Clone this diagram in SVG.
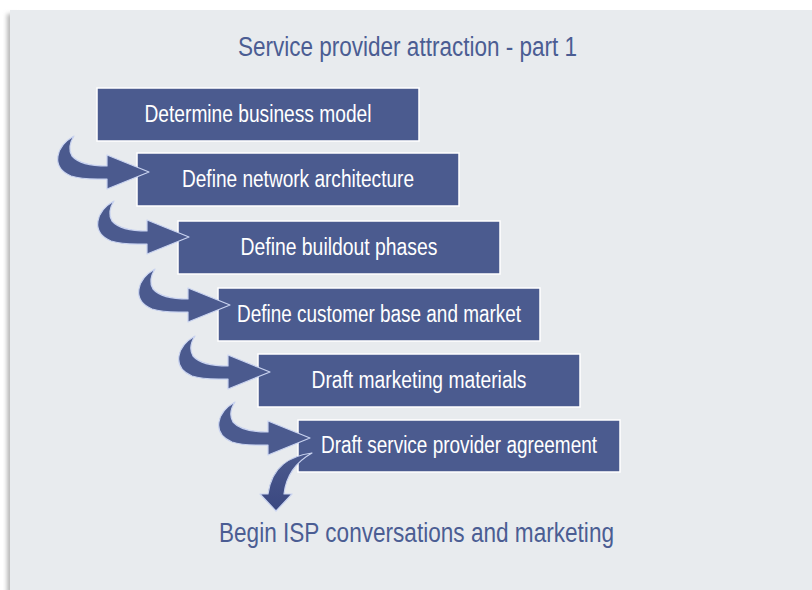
<svg xmlns="http://www.w3.org/2000/svg" width="812" height="590" viewBox="0 0 812 590">
<defs>
<style>
.box{fill:#4b5b8f;stroke:#ffffff;stroke-width:1.5}
.bt{font-family:"Liberation Sans",Arial,sans-serif;font-size:23px;fill:#ffffff;text-anchor:middle}
.hd{font-family:"Liberation Sans",Arial,sans-serif;font-size:27px;fill:#4b5d93;text-anchor:middle}
.arr{fill:#4b5a8e;stroke:#c9d3f0;stroke-width:1.2;stroke-linejoin:round}
</style>
<linearGradient id="lastg" x1="0" y1="0" x2="0" y2="1">
<stop offset="0" stop-color="#4b5a8e"/>
<stop offset="1" stop-color="#3a4780"/>
</linearGradient>
<filter id="sh" x="-50%" y="-10%" width="200%" height="120%">
<feGaussianBlur stdDeviation="2"/>
</filter>
<path id="curl" d="M -23,48 C -41,58 -47,79 -26,88 C -14,92 -2,91 10,91 L 10,101 L 52,84 L 10,67 L 10,78 C -2,78 -18,76 -25,68 C -29,61 -27,54 -23,48 Z"/>
</defs>
<rect x="0" y="0" width="812" height="590" fill="#ffffff"/>
<rect x="7" y="14" width="10" height="580" fill="#b8b8b8" filter="url(#sh)"/>
<rect x="10" y="10" width="802" height="580" fill="#e8ebee"/>
<text class="hd" x="407.5" y="56" textLength="339" lengthAdjust="spacingAndGlyphs">Service provider attraction - part 1</text>

<g id="node1"><rect class="box" x="97" y="88" width="322" height="53"/><text class="bt" x="258" y="122" textLength="227" lengthAdjust="spacingAndGlyphs">Determine business model</text></g>
<g id="node2"><rect class="box" x="137" y="153" width="322" height="53"/><text class="bt" x="298" y="187" textLength="232" lengthAdjust="spacingAndGlyphs">Define network architecture</text></g>
<g id="node3"><rect class="box" x="178" y="221" width="322" height="53"/><text class="bt" x="339" y="255" textLength="197" lengthAdjust="spacingAndGlyphs">Define buildout phases</text></g>
<g id="node4"><rect class="box" x="218" y="288" width="322" height="53"/><text class="bt" x="379" y="322" textLength="284" lengthAdjust="spacingAndGlyphs">Define customer base and market</text></g>
<g id="node5"><rect class="box" x="258" y="354" width="322" height="53"/><text class="bt" x="419" y="388" textLength="215" lengthAdjust="spacingAndGlyphs">Draft marketing materials</text></g>
<g id="node6"><rect class="box" x="298" y="420" width="322" height="52"/><text class="bt" x="459" y="453" textLength="276" lengthAdjust="spacingAndGlyphs">Draft service provider agreement</text></g>

<g id="connectors">
<use href="#curl" class="arr" transform="translate(97,88)"/>
<use href="#curl" class="arr" transform="translate(137,153)"/>
<use href="#curl" class="arr" transform="translate(178,221)"/>
<use href="#curl" class="arr" transform="translate(218,288)"/>
<use href="#curl" class="arr" transform="translate(258,354)"/>
<path d="M 312,453 C 290,456 272,466 268,494 L 260,494 L 276,511 L 292,494 L 284,494 C 286,476 296,462 312,453 Z" fill="url(#lastg)" stroke="#c9d3f0" stroke-width="1.2" stroke-linejoin="round"/>
</g>

<g id="final"><text class="hd" x="416.5" y="542" textLength="395" lengthAdjust="spacingAndGlyphs">Begin ISP conversations and marketing</text></g>
</svg>
